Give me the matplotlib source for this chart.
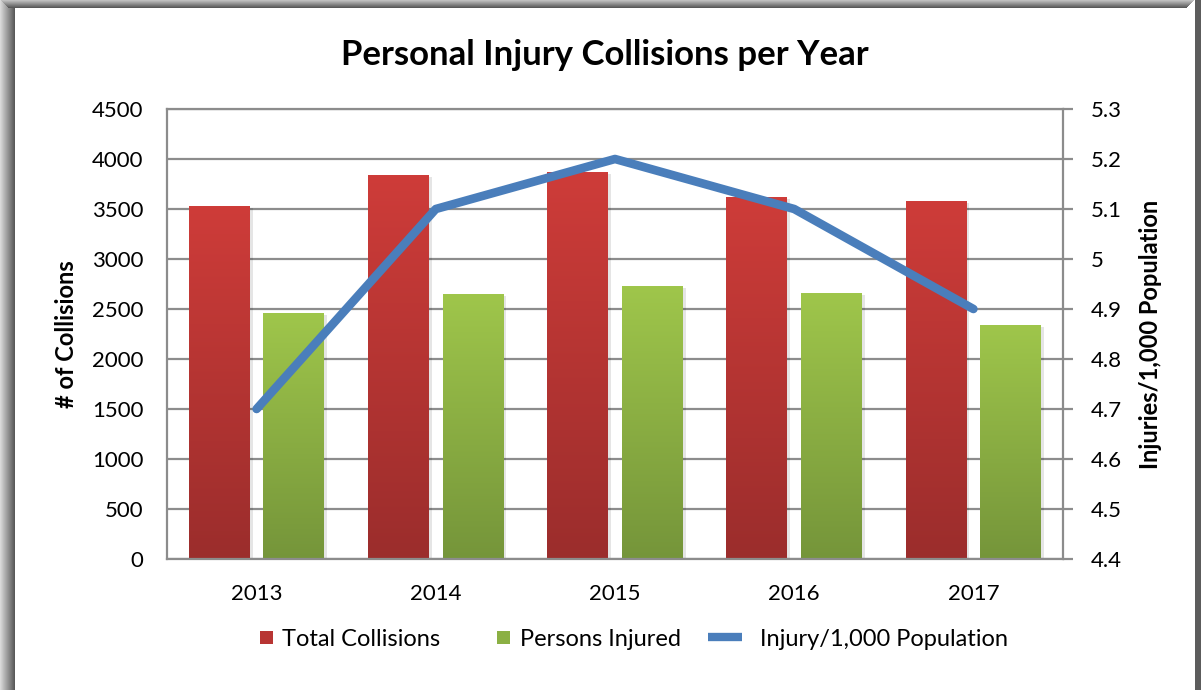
import matplotlib
matplotlib.use("Agg")
import matplotlib.pyplot as plt
import numpy as np
from matplotlib.patches import Rectangle
from matplotlib.lines import Line2D
from matplotlib.legend_handler import HandlerBase
import matplotlib.colors as mcolors

years = ["2013", "2014", "2015", "2016", "2017"]
total_collisions = [3530, 3840, 3870, 3620, 3580]
persons_injured = [2460, 2650, 2730, 2660, 2340]
injury_rate = [4.7, 5.1, 5.2, 5.1, 4.9]

left_ticks = [0, 500, 1000, 1500, 2000, 2500, 3000, 3500, 4000, 4500]
right_ticks = [4.4, 4.5, 4.6, 4.7, 4.8, 4.9, 5.0, 5.1, 5.2, 5.3]
right_labels = ["4.4", "4.5", "4.6", "4.7", "4.8", "4.9", "5", "5.1", "5.2", "5.3"]

plt.rcParams['font.family'] = ['Lato', 'DejaVu Sans']

W, H = 1201, 690
fig = plt.figure(figsize=(W / 100, H / 100), dpi=100)
fig.patch.set_facecolor('white')

# frame (gray border with shadow)
def frect(x0, y0, w, h, color, **kw):
    fig.patches.append(Rectangle((x0 / W, 1 - (y0 + h) / H), w / W, h / H,
                                 transform=fig.transFigure, facecolor=color,
                                 edgecolor='none', **kw))

for i in range(15):
    g = 0.85 - 0.5 * (i / 14)
    frect(i, 0, 1, H, (g, g, g))
for i in range(8):
    g = 0.75 - 0.4 * (i / 7)
    frect(i + 1, i, W - 2 * i - 8, 1, (g, g, g))
frect(1195, 0, 6, H, (0.36, 0.36, 0.36))

ax = fig.add_axes([167 / W, (H - 559) / H, 896 / W, 450 / H])
ax.set_facecolor('none')
x = np.arange(len(years))
bw = 0.34
off = 0.208

red_top, red_bot = np.array(mcolors.to_rgb('#CE3C39')), np.array(mcolors.to_rgb('#9B2D2C'))
grn_top, grn_bot = np.array(mcolors.to_rgb('#9FC64B')), np.array(mcolors.to_rgb('#75953A'))

def gradient_bars(bars, top, bot):
    for b in bars:
        x0, y0 = b.get_x(), b.get_y()
        w, h = b.get_width(), b.get_height()
        t = np.linspace(0, 1, 256)[:, None]
        img = (top[None, :] * (1 - t) + bot[None, :] * t)[:, None, :]
        ax.add_patch(Rectangle((x0 + 0.012, y0), w + 0.004, h - 15, facecolor='black',
                               alpha=0.10, edgecolor='none', zorder=1.5))
        im = ax.imshow(img, extent=(x0, x0 + w, y0, y0 + h), origin='upper',
                       aspect='auto', zorder=2, interpolation='bilinear')
        im.set_clip_path(b)
        b.set_facecolor('none')

b1 = ax.bar(x - off, total_collisions, bw, zorder=2, edgecolor='none')
b2 = ax.bar(x + off, persons_injured, bw, zorder=2, edgecolor='none')
gradient_bars(b1, red_top, red_bot)
gradient_bars(b2, grn_top, grn_bot)

ax.set_xlim(-0.5, len(years) - 0.5)
ax.set_ylim(0, 4500)
ax.set_yticks(left_ticks)
ax.set_yticklabels([str(v) for v in left_ticks], fontsize=16)
ax.set_xticks(x)
ax.set_xticklabels(years, fontsize=16)
ax.tick_params(axis='y', length=0, pad=17)
ax.tick_params(axis='x', length=0, pad=18)
ax.yaxis.grid(True, color='#8C8C8C', linewidth=1.6, zorder=1)
ax.set_axisbelow(True)
for s in ax.spines.values():
    s.set_color('#8C8C8C')
    s.set_linewidth(1.6)
ax.set_ylabel('# of Collisions', fontsize=17, fontweight='bold', labelpad=10)

ax2 = ax.twinx()
ax2.plot(x, injury_rate, color='#4A7EBB', linewidth=6.2, solid_capstyle='round',
         solid_joinstyle='round', zorder=5)
ax2.set_ylim(4.4, 5.3)
ax2.set_yticks(right_ticks)
ax2.set_yticklabels(right_labels, fontsize=16)
ax2.tick_params(axis='y', length=7, width=1.6, color='#8C8C8C', pad=13)
for s in ax2.spines.values():
    s.set_visible(False)
ax2.set_ylabel('Injuries/1,000 Population', fontsize=17, fontweight='bold', labelpad=12)

fig.text(605 / W, 1 - 55 / H, 'Personal Injury Collisions per Year', ha='center',
         va='center', fontsize=25, fontweight='bold')


class SquareHandler(HandlerBase):
    def create_artists(self, legend, orig_handle, xdescent, ydescent, width, height,
                       fontsize, trans):
        s = 9.5
        p = Rectangle((width - s - xdescent, (height - s) / 2 - ydescent), s, s,
                      facecolor=orig_handle.get_facecolor(), edgecolor='none',
                      transform=trans)
        return [p]


class ShortLineHandler(HandlerBase):
    def create_artists(self, legend, orig_handle, xdescent, ydescent, width, height,
                       fontsize, trans):
        yc = height / 2 - ydescent
        ln = Line2D([-xdescent, -xdescent + 24.5], [yc, yc], color=orig_handle.get_color(),
                    linewidth=orig_handle.get_linewidth(), solid_capstyle='butt',
                    transform=trans)
        return [ln]


h_red = Rectangle((0, 0), 1, 1, facecolor='#B83533')
h_grn = Rectangle((0, 0), 1, 1, facecolor='#8BB044')
h_line = Line2D([0], [0], color='#4A7EBB', linewidth=6)
fig.legend([h_red, h_grn, h_line],
           ['Total Collisions', 'Persons Injured', 'Injury/1,000 Population'],
           loc='center', bbox_to_anchor=(619 / W, 1 - 639 / H), ncol=3, frameon=False,
           fontsize=17, handlelength=1.8, handleheight=0.7, columnspacing=1.15,
           handletextpad=0.4,
           handler_map={h_red: SquareHandler(), h_grn: SquareHandler(),
                        h_line: ShortLineHandler()})

fig.savefig('out.png', dpi=100)
